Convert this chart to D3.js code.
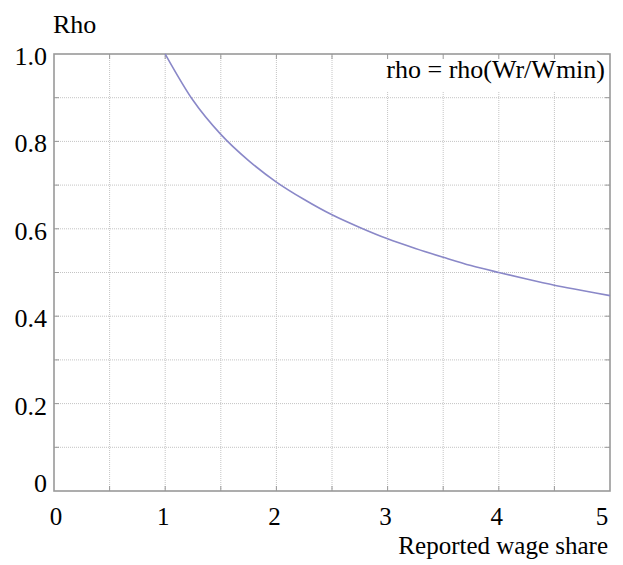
<!DOCTYPE html>
<html>
<head>
<meta charset="utf-8">
<script src="https://cdn.jsdelivr.net/npm/d3@7"></script>
<style>
  body { margin: 0; background: #fff; }
  text { font-family: "Liberation Serif", "DejaVu Serif", serif; fill: #000; }
</style>
</head>
<body>
<svg width="623" height="565"></svg>
<script>
// Values
var wageShare = [1, 1.25, 1.5, 1.75, 2, 2.25, 2.5, 2.75, 3, 3.25, 3.5, 3.75, 4, 4.25, 4.5, 4.75, 5];
var rhoValues = [1.000, 0.894, 0.816, 0.756, 0.707, 0.667, 0.632, 0.603, 0.577, 0.555, 0.535, 0.516, 0.500, 0.485, 0.471, 0.459, 0.447];
var xTicks = [0, 1, 2, 3, 4, 5];
var yTicks = [0, 0.2, 0.4, 0.6, 0.8, 1.0];
var xGrid = [0.5, 1, 1.5, 2, 2.5, 3, 3.5, 4, 4.5];
var yGrid = [0.1, 0.2, 0.3, 0.4, 0.5, 0.6, 0.7, 0.8, 0.9];

var data = wageShare.map(function(d, i) { return {x: d, y: rhoValues[i]}; });

var svg = d3.select("svg"),
    margin = {top: 54, right: 13, bottom: 74, left: 54},
    width = +svg.attr("width") - margin.left - margin.right,
    height = +svg.attr("height") - margin.top - margin.bottom,
    g = svg.append("g").attr("transform", "translate(" + margin.left + "," + margin.top + ")");

var x = d3.scaleLinear().domain([0, 5]).range([0, width]);
var y = d3.scaleLinear().domain([0, 1]).range([height, 0]);

// dotted grid
g.append("g").selectAll("line")
  .data(xGrid)
  .enter().append("line")
    .attr("x1", function(d) { return x(d); })
    .attr("x2", function(d) { return x(d); })
    .attr("y1", 0)
    .attr("y2", height)
    .attr("stroke", "#c4c4c4")
    .attr("stroke-width", 1)
    .attr("stroke-dasharray", "1,1");

g.append("g").selectAll("line")
  .data(yGrid)
  .enter().append("line")
    .attr("x1", 0)
    .attr("x2", width)
    .attr("y1", function(d) { return y(d); })
    .attr("y2", function(d) { return y(d); })
    .attr("stroke", "#c4c4c4")
    .attr("stroke-width", 1)
    .attr("stroke-dasharray", "1,1");

// legend background hides the grid behind the label
g.append("rect")
  .attr("x", x(2.8))
  .attr("y", 1)
  .attr("width", width - x(2.8) - 2)
  .attr("height", 37)
  .attr("fill", "#fff");

// tick marks on all four sides
var tickLen = 5;
var frame = g.append("g").attr("stroke", "#999").attr("stroke-width", 1);
xGrid.forEach(function(d) {
  frame.append("line").attr("x1", x(d)).attr("x2", x(d)).attr("y1", height).attr("y2", height - tickLen);
  frame.append("line").attr("x1", x(d)).attr("x2", x(d)).attr("y1", 0).attr("y2", tickLen);
});
yGrid.forEach(function(d) {
  frame.append("line").attr("x1", 0).attr("x2", tickLen).attr("y1", y(d)).attr("y2", y(d));
  frame.append("line").attr("x1", width).attr("x2", width - tickLen).attr("y1", y(d)).attr("y2", y(d));
});

// box
g.append("rect")
  .attr("width", width)
  .attr("height", height)
  .attr("fill", "none")
  .attr("stroke", "#999")
  .attr("stroke-width", 1.6);

// curve
var line = d3.line()
  .x(function(d) { return x(d.x); })
  .y(function(d) { return y(d.y); })
  .curve(d3.curveMonotoneX);

g.append("path")
  .datum(data)
  .attr("d", line)
  .attr("fill", "none")
  .attr("stroke", "#8a88c8")
  .attr("stroke-width", 1.6);

// tick labels
g.append("g").selectAll("text")
  .data(xTicks)
  .enter().append("text")
    .attr("x", function(d) { return x(d) + (d === 0 ? 2 : d === 5 ? -8 : -2); })
    .attr("y", height + 34)
    .attr("text-anchor", "middle")
    .style("font-size", "25px")
    .text(function(d) { return d; });

g.append("g").selectAll("text")
  .data(yTicks)
  .enter().append("text")
    .attr("x", -7)
    .attr("y", function(d) { return y(d) + (d === 0 ? 1 : 11); })
    .attr("text-anchor", "end")
    .style("font-size", "26px")
    .text(function(d) { return d === 0 ? "0" : d3.format(".1f")(d); });

// titles
svg.append("text")
  .attr("x", 53)
  .attr("y", 33)
  .style("font-size", "26px")
  .text("Rho");

svg.append("text")
  .attr("x", 608)
  .attr("y", 554)
  .attr("text-anchor", "end")
  .style("font-size", "25px")
  .text("Reported wage share");

g.append("text")
  .attr("x", width - 5)
  .attr("y", 24)
  .attr("text-anchor", "end")
  .style("font-size", "26px")
  .text("rho = rho(Wr/Wmin)");
</script>
</body>
</html>
